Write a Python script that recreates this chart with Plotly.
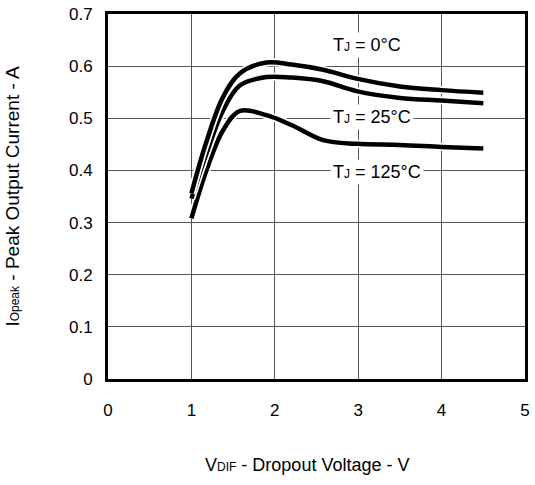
import plotly.graph_objects as go

# Dropout voltage (V) sample points shared by all curves
vdif = [1.0, 1.18, 1.38, 1.58, 1.9, 2.2, 2.58, 2.98, 3.5, 4.0, 4.5]

# Peak output current (A) per junction temperature
iopeak_0c = [0.356, 0.455, 0.541, 0.586, 0.607, 0.603, 0.593, 0.576, 0.561, 0.554, 0.549]
iopeak_25c = [0.346, 0.432, 0.515, 0.563, 0.579, 0.578, 0.571, 0.552, 0.539, 0.534, 0.529]
iopeak_125c = [0.308, 0.400, 0.477, 0.514, 0.506, 0.487, 0.458, 0.451, 0.449, 0.445, 0.442]

curve_labels = ["T<span style='font-size:12px'>J</span> = 0°C",
                "T<span style='font-size:12px'>J</span> = 25°C",
                "T<span style='font-size:12px'>J</span> = 125°C"]
label_x = [3.1, 3.16, 3.22]
label_y = [0.64, 0.502, 0.397]

FONT = "Liberation Sans, Arial, sans-serif"

fig = go.Figure()

# Draw from the bottom curve up; each white halo separates it from the curve below
for ys in [iopeak_125c, iopeak_25c, iopeak_0c]:
    fig.add_trace(go.Scatter(x=vdif, y=ys, mode="lines",
                             line=dict(color="white", width=8, shape="spline"),
                             hoverinfo="skip", showlegend=False))
    fig.add_trace(go.Scatter(x=vdif, y=ys, mode="lines",
                             line=dict(color="black", width=4.5, shape="spline"),
                             showlegend=False))

for txt, lx, ly in zip(curve_labels, label_x, label_y):
    fig.add_annotation(x=lx, y=ly, text=txt, showarrow=False,
                       font=dict(family=FONT, size=18, color="black"),
                       bgcolor="white", borderpad=2)

# Axis titles
fig.add_annotation(xref="paper", yref="paper", x=0.477, y=-0.236,
                   text="V<span style='font-size:12px'>DIF</span> - Dropout Voltage - V",
                   showarrow=False, xanchor="center", yanchor="middle",
                   font=dict(family=FONT, size=18, color="black"))
fig.add_annotation(xref="paper", yref="paper", x=-0.23, y=0.5,
                   text="I<span style='font-size:12px'>Opeak</span> - Peak Output Current - A",
                   showarrow=False, textangle=-90, xanchor="center", yanchor="middle",
                   font=dict(family=FONT, size=19, color="black"))

fig.update_xaxes(range=[0, 5], dtick=1, showgrid=True, gridcolor="#555", gridwidth=1,
                 zeroline=False, showline=True, linecolor="black", linewidth=3, mirror=True,
                 ticks="", ticklabelstandoff=14, automargin=False,
                 tickfont=dict(family=FONT, size=17, color="black"))
fig.update_yaxes(range=[0, 0.7], showgrid=True, gridcolor="#555", gridwidth=1,
                 zeroline=False, showline=True, linecolor="black", linewidth=3, mirror=True,
                 ticks="", ticklabelstandoff=9, automargin=False,
                 tickvals=[0, 0.1, 0.2, 0.3, 0.4, 0.5, 0.6, 0.7],
                 ticktext=["0", "0.1", "0.2", "0.3", "0.4", "0.5", "0.6", "0.7"],
                 tickfont=dict(family=FONT, size=17, color="black"))

fig.update_layout(width=535, height=485, margin=dict(l=108, r=10, t=14, b=106),
                  plot_bgcolor="white", paper_bgcolor="white", showlegend=False)

fig.write_html("out.html")
